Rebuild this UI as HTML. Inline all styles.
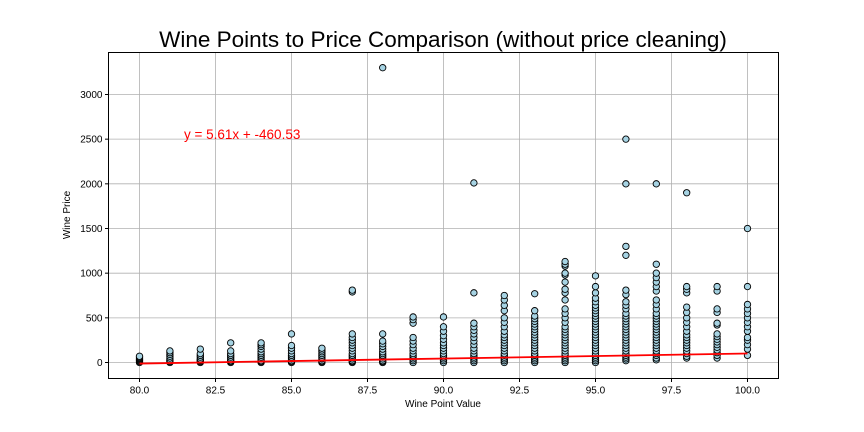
<!DOCTYPE html>
<html><head><meta charset="utf-8"><style>body{margin:0;background:#fff}svg{display:block;font-family:"Liberation Sans",sans-serif}</style></head>
<body>
<svg id="chart" width="864" height="432" xmlns="http://www.w3.org/2000/svg">
<text x="443" y="47" text-anchor="middle" font-size="22.5">Wine Points to Price Comparison (without price cleaning)</text>
<g id="grid"></g>
<g id="points"></g>
<g id="ticks"></g>
<rect x="108.5" y="52.5" width="670" height="326" fill="none" stroke="#000" stroke-width="1"/>
<text x="184" y="139" font-size="13.5" fill="red">y = 5.61x + -460.53</text>
<text x="443" y="407" text-anchor="middle" font-size="10">Wine Point Value</text>
<text transform="translate(70,215) rotate(-90)" text-anchor="middle" font-size="10">Wine Price</text>
</svg>
<script>
const points=[80,81,82,83,84,85,86,87,88,89,90,91,92,93,94,95,96,97,98,99,100];
const prices=[
[0,10,20,30,40,50,60,70],
[0,10,20,30,50,70,90,110,130],
[0,10,20,30,40,60,80,100,150],
[0,10,20,40,60,80,100,130,220],
[0,10,20,40,60,80,100,120,150,180,200,220],
[0,10,20,40,60,80,100,130,160,190,320],
[0,10,20,40,60,80,100,120,140,160],
[0,10,20,40,60,80,100,130,160,190,220,250,280,320,790,810],
[0,10,20,40,60,80,100,120,150,180,210,240,320,3300],
[0,20,40,60,80,100,130,160,200,240,280,440,480,510],
[0,20,40,60,80,100,130,160,190,220,260,300,350,400,510],
[0,20,40,60,80,100,130,160,200,240,280,320,360,400,440,780,2010],
[0,20,40,60,80,100,130,160,190,220,250,280,310,350,400,450,500,580,640,700,750],
[0,20,40,60,80,100,130,160,190,220,250,280,310,340,370,400,430,460,490,520,580,770],
[0,20,40,60,80,100,130,160,190,220,250,280,310,340,370,400,450,500,550,600,700,780,820,900,980,1000,1080,1100,1130],
[0,20,40,60,80,100,130,160,190,220,250,280,310,340,370,400,430,460,490,520,550,580,610,640,680,720,780,850,970],
[20,40,60,80,100,130,160,190,220,250,280,310,340,370,400,430,460,490,520,550,600,640,680,760,810,1200,1300,2000,2500],
[30,50,80,100,130,160,190,220,250,280,310,340,370,400,430,460,490,520,550,600,650,700,800,850,900,950,1000,1100,2000],
[50,70,100,130,160,190,220,250,280,310,350,400,450,500,560,620,780,820,850,1900],
[50,80,110,140,170,200,230,260,290,320,420,440,560,600,800,850],
[80,150,200,250,280,350,400,450,500,550,600,650,850,1500]];
const slope=5.61, intercept=-460.53;
const xTicks=[80,82.5,85,87.5,90,92.5,95,97.5,100];
const yTicks=[0,500,1000,1500,2000,2500,3000];
const L=108.5,R=778.5,T=52.5,B=378.5;
const xMin=78.98,xMax=101.02,yMin=-179,yMax=3470;
const sx=v=>L+(v-xMin)/(xMax-xMin)*(R-L);
const sy=v=>B-(v-yMin)/(yMax-yMin)*(B-T);
const NS="http://www.w3.org/2000/svg";
const mk=(t,a,p)=>{const e=document.createElementNS(NS,t);for(const k in a)e.setAttribute(k,a[k]);p.appendChild(e);return e;};
const grid=document.getElementById('grid'),ticks=document.getElementById('ticks'),pts=document.getElementById('points');
xTicks.forEach(v=>{const x=sx(v);
const g=mk('line',{x1:x,x2:x,y1:T,y2:B,stroke:'#b0b0b0','stroke-width':0.8},grid);


const t=mk('line',{x1:x,x2:x,y1:B,y2:B+3.5,stroke:'#000'},ticks);


const l=mk('text',{x:x,y:B+15,'text-anchor':'middle','font-size':10},ticks);l.textContent=v.toFixed(1);

});
yTicks.forEach(v=>{const y=sy(v);
const g=mk('line',{x1:L,x2:R,y1:y,y2:y,stroke:'#b0b0b0','stroke-width':0.8},grid);


const t=mk('line',{x1:L-3.5,x2:L,y1:y,y2:y,stroke:'#000'},ticks);


const l=mk('text',{x:L-6,y:y+3.5,'text-anchor':'end','font-size':10},ticks);l.textContent=v;

});
points.forEach((p,i)=>prices[i].forEach(v=>{
const c=mk('circle',{cx:sx(p),cy:sy(v),r:3.2,fill:'#a6d3e3',stroke:'#000','stroke-width':0.9},pts);

}));
const x0=points[0],x1=points[points.length-1];
const rl=mk('line',{x1:sx(x0),y1:sy(slope*x0+intercept),x2:sx(x1),y2:sy(slope*x1+intercept),stroke:'red','stroke-width':1.8},pts);


</script>
</body></html>
